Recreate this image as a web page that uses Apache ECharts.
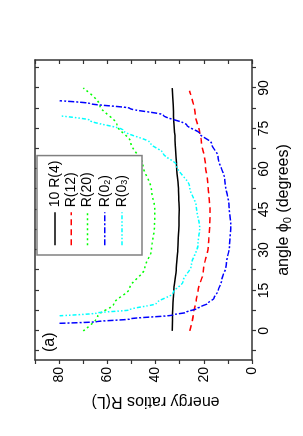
<!DOCTYPE html>
<html><head><meta charset="utf-8">
<script src="https://cdn.jsdelivr.net/npm/echarts@6/dist/echarts.min.js"></script>
<style>
html,body{margin:0;padding:0;background:#fff;width:303px;height:436px;overflow:hidden}
#wrap{position:absolute;left:0;top:0;width:436px;height:303px;transform-origin:0 0;transform:translate(0,436px) rotate(-90deg);}
</style></head><body><div id="wrap"></div>
<script>
// tick values
const angleTicks = [-7.5, 0, 7.5, 15, 22.5, 30, 37.5, 45, 52.5, 60, 67.5, 75, 82.5, 90, 97.5];
const angleLabels = [0, 15, 30, 45, 60, 75, 90];
const ratioTicks = [0, 10, 20, 30, 40, 50, 60, 70, 80, 90];
const ratioLabels = [0, 20, 40, 60, 80];

// series names
const seriesNames = ['10 R(4)', 'R(12)', 'R(20)', 'R(0_2)', 'R(0_3)'];

// data (angle in degrees, energy ratio)
const r4Angle = [0, 6.5, 14.6, 23.2, 30, 39, 45, 52, 61.5, 70.7, 79.4, 90];
const r4Value = [33.1, 33.0, 32.5, 31.4, 30.8, 30.3, 30.2, 30.5, 31.3, 31.9, 32.6, 33.1];

const r12Angle = [0, 6, 11.5, 14.6, 22, 31.9, 39, 45, 49.7, 55, 61.5, 70.7, 73.2, 80, 89];
const r12Value = [25.8, 24.4, 23.1, 22.4, 20.2, 18.1, 17.5, 17.4, 17.8, 18.4, 19.3, 21.0, 21.7, 23.5, 25.9];

const r20Angle = [0, 5.5, 10, 15.8, 23.2, 30, 39, 45, 52.2, 61.5, 69.9, 76.3, 83.7, 90];
const r20Value = [70, 64, 57.3, 50.7, 44.5, 41.7, 40.4, 40.3, 41.7, 45.2, 50.3, 56, 63.2, 70];

const o2Angle = [2.8, 3.4, 4.4, 5.9, 6.9, 8.4, 9, 10.2, 12.1, 15, 18.3, 24.4, 31.9, 39, 46, 55.9, 64.6, 69.5, 73.2, 76.3, 80, 82.5, 84.3, 85.3];
const o2Value = [79.8, 64.4, 50.7, 32.8, 27.2, 22.6, 21.0, 18.3, 15.8, 14.0, 12.7, 10.7, 9.3, 8.8, 9.5, 11.3, 14.1, 16.8, 21.7, 27.1, 36.8, 50.7, 67.3, 79.8];

const o3Angle = [5.6, 6.6, 7.8, 10.2, 14, 18.3, 24.4, 31.9, 38, 46, 53.4, 61.5, 65.8, 69.5, 74.4, 78.1, 79.7];
const o3Value = [79.8, 64.4, 50.7, 39.7, 32.8, 28.6, 25.1, 22.4, 21.7, 23.1, 25.9, 31.4, 36.8, 42, 53.5, 67.3, 79.8];

function pairs(xs, ys) { return xs.map((x, i) => [x, ys[i]]); }

const FONT = '"Liberation Sans", Arial, sans-serif';
const frame = { show: true, onZero: false, lineStyle: { color: '#333', width: 1.5 } };

const chart = echarts.init(document.getElementById('wrap'), null, { renderer: 'canvas', width: 436, height: 303 });

const legendNames = {
  '10 R(4)': '{n|10 R(4)}',
  'R(12)': '{n|R(12)}',
  'R(20)': '{n|R(20)}',
  'R(0_2)': '{n|R(0}{s|2}{n|)}',
  'R(0_3)': '{n|R(0}{s|3}{n|)}'
};

function mk(name, data, color, type) {
  return {
    name: name, type: 'line', data: data, showSymbol: false, symbol: 'none',
    smooth: 0.3, smoothMonotone: 'x', xAxisIndex: 0, yAxisIndex: 0,
    lineStyle: { color: color, width: 1.5, type: type }, itemStyle: { color: color },
    animation: false
  };
}

chart.setOption({
  animation: false,
  backgroundColor: '#fff',
  grid: { left: 76, right: 60, top: 35, bottom: 51, containLabel: false },
  xAxis: [
    {
      type: 'value', position: 'bottom', min: -10.8, max: 100.4,
      axisLine: frame,
      axisTick: { show: true, inside: false, length: 4, customValues: angleTicks, lineStyle: { color: '#333', width: 1.2 } },
      axisLabel: { show: true, customValues: angleLabels, margin: 5, fontSize: 14, color: '#000', fontFamily: FONT },
      splitLine: { show: false },
      name: 'angle ϕ{sub|0} (degrees)', nameLocation: 'middle', nameGap: 22,
      nameTextStyle: { fontSize: 16, color: '#000', fontFamily: FONT,
        rich: { sub: { fontSize: 11, verticalAlign: 'bottom', padding: [8, 0, 0, 0], fontFamily: FONT } } }
    },
    {
      type: 'value', position: 'top', min: -10.8, max: 100.4,
      axisLine: frame,
      axisTick: { show: true, inside: true, length: 4, customValues: angleTicks, lineStyle: { color: '#333', width: 1.2 } },
      axisLabel: { show: false },
      splitLine: { show: false }
    }
  ],
  yAxis: [
    {
      type: 'value', position: 'left', min: 0, max: 90,
      axisLine: frame,
      axisTick: { show: true, inside: false, length: 4, customValues: ratioTicks, lineStyle: { color: '#333', width: 1.2 } },
      axisLabel: { show: true, customValues: ratioLabels, margin: 7, fontSize: 14, color: '#000', fontFamily: FONT },
      splitLine: { show: false },
      name: 'energy ratios R(L)', nameLocation: 'middle', nameGap: 25, nameRotate: 90,
      nameTextStyle: { fontSize: 16, color: '#000', fontFamily: FONT, padding: [0, 24, 0, 0] }
    },
    {
      type: 'value', position: 'right', min: 0, max: 90,
      axisLine: frame,
      axisTick: { show: true, inside: true, length: 4, customValues: ratioTicks, lineStyle: { color: '#333', width: 1.2 } },
      axisLabel: { show: false },
      splitLine: { show: false }
    }
  ],
  legend: {
    show: true, orient: 'vertical', left: 181, top: 37,
    padding: [11, 5, 13, 9], itemWidth: 33, itemHeight: 14, itemGap: 2.25,
    borderColor: '#808080', borderWidth: 1.5, backgroundColor: '#fff',
    data: seriesNames,
    itemStyle: { opacity: 0 },
    lineStyle: { width: 1.5 },
    formatter: function (n) { return legendNames[n]; },
    textStyle: { fontSize: 14, color: '#000', fontFamily: FONT,
      rich: { n: { fontSize: 14, lineHeight: 14, fontFamily: FONT, color: '#000' },
              s: { fontSize: 9, lineHeight: 14, verticalAlign: 'bottom', padding: [6, 0, 0, 0], fontFamily: FONT, color: '#000' } } }
  },
  graphic: [
    { type: 'text', left: 84, top: 42, style: { text: '(a)', fontSize: 16, fill: '#000', fontFamily: FONT } }
  ],
  series: [
    mk(seriesNames[0], pairs(r4Angle, r4Value), '#000000', 'solid'),
    mk(seriesNames[1], pairs(r12Angle, r12Value), '#ff0000', [6, 4]),
    mk(seriesNames[2], pairs(r20Angle, r20Value), '#00ff00', [2, 3]),
    mk(seriesNames[3], pairs(o2Angle, o2Value), '#0000ff', [6, 2, 2, 2]),
    mk(seriesNames[4], pairs(o3Angle, o3Value), '#00ffff', [4, 2, 1.5, 2, 1.5, 2])
  ]
});
</script>
</body></html>
